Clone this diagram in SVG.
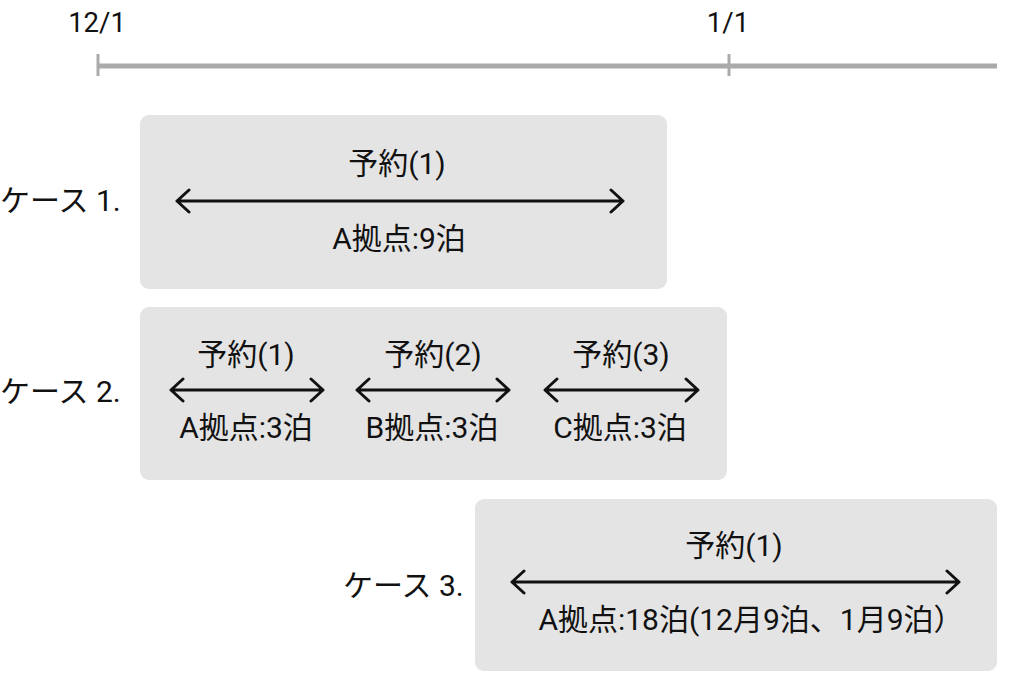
<svg xmlns="http://www.w3.org/2000/svg" width="1015" height="674" viewBox="0 0 1015 674">
<style>
text{font-family:Roboto,"Noto Sans CJK JP",sans-serif;font-size:30px;fill:#111;}
.c{text-anchor:middle;}
.d{font-size:27.5px;}
.box{fill:#e4e4e4;}
.arr{stroke:#111;stroke-width:3;fill:none;stroke-linecap:round;stroke-linejoin:round;}
.axis{stroke:#aaaaaa;fill:none;}
</style>
<rect width="1015" height="674" fill="#ffffff"/>
<g id="timeline">
<line class="axis" x1="98" y1="66" x2="997" y2="66" stroke-width="5"/>
<line class="axis" x1="98" y1="54" x2="98" y2="76" stroke-width="3"/>
<line class="axis" x1="729" y1="54" x2="729" y2="76" stroke-width="3"/>
<text class="c d" x="97" y="32">12/1</text>
<text class="c d" x="728" y="32">1/1</text>
</g>
<g id="case1">
<text x="0" y="211">ケース 1.</text>
<rect class="box" x="140" y="115" width="527" height="174" rx="9"/>
<text class="c" x="397" y="174">予約(1)</text>
<text class="c" x="399" y="249">A拠点:9泊</text>
</g>
<g id="case2">
<text x="0" y="402">ケース 2.</text>
<rect class="box" x="140" y="307" width="587" height="173" rx="9"/>
<text class="c" x="246" y="365">予約(1)</text>
<text class="c" x="246" y="438">A拠点:3泊</text>
<text class="c" x="433" y="365">予約(2)</text>
<text class="c" x="432" y="438">B拠点:3泊</text>
<text class="c" x="621" y="365">予約(3)</text>
<text class="c" x="620" y="438">C拠点:3泊</text>
</g>
<g id="case3">
<text x="343" y="596">ケース 3.</text>
<rect class="box" x="475" y="499" width="522" height="172" rx="9"/>
<text class="c" x="734" y="556">予約(1)</text>
<text class="c" x="751" y="630">A拠点:18泊(12月9泊、1月9泊）</text>
</g>
<g id="connectors">
<path class="arr" d="M177,201 H623 M189,190 L177,201 L189,212 M611,190 L623,201 L611,212"/>
<path class="arr" d="M171,390 H323 M183,379 L171,390 L183,401 M311,379 L323,390 L311,401"/>
<path class="arr" d="M357,390 H509 M369,379 L357,390 L369,401 M497,379 L509,390 L497,401"/>
<path class="arr" d="M545,390 H698 M557,379 L545,390 L557,401 M686,379 L698,390 L686,401"/>
<path class="arr" d="M512,582 H959 M524,571 L512,582 L524,593 M947,571 L959,582 L947,593"/>
</g>
</svg>
